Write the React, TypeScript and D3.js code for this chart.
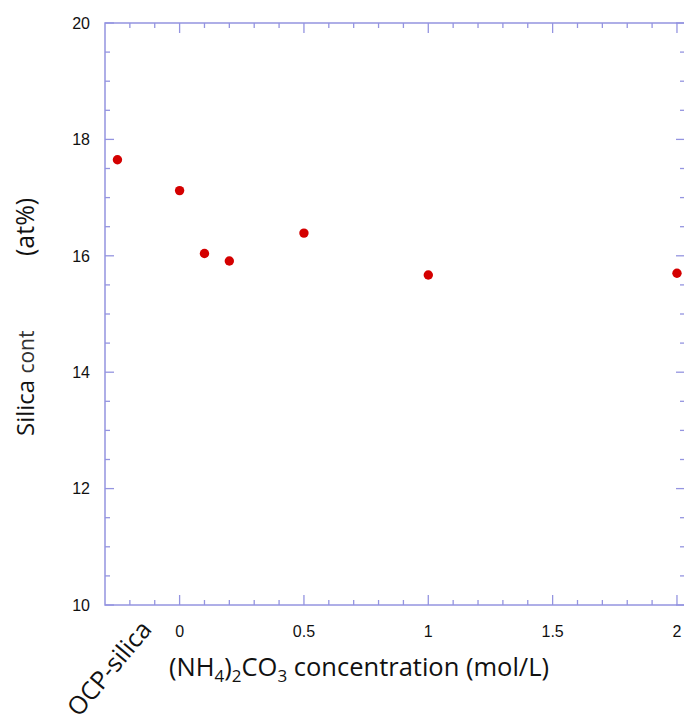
import React, { useRef, useEffect } from 'react';
import * as d3 from 'd3';

// concentrations of (NH4)2CO3 in mol/L and the silica content
const concentrations = [0, 0.1, 0.2, 0.5, 1, 2];
const silicaContent = [17.12, 16.04, 15.91, 16.39, 15.67, 15.7];
// the reference sample sits left of zero on the axis
const ocpPosition = -0.25;
const ocpContent = 17.65;
const ocpLabel = 'OCP-silica';

const xTickLabels = ['0', '0.5', '1', '1.5', '2'];
const yTickLabels = ['10', '12', '14', '16', '18', '20'];

const width = 684;
const height = 722;
const axisColor = '#9494e0';
const dotColor = '#d40000';

const App = () => {
    const svgRef = useRef<SVGSVGElement>(null);

    useEffect(() => {
        const svg = d3.select(svgRef.current);
        svg.selectAll('*').remove();

        const left = 105, right = 685, top = 23, bottom = 605;

        const x = d3.scaleLinear().domain([-0.3, 2.0323]).range([left, right]);
        const y = d3.scaleLinear().domain([10, 20]).range([bottom, top]);

        const g = svg.append('g');

        // frame
        g.append('rect')
            .attr('x', left)
            .attr('y', top)
            .attr('width', right - left)
            .attr('height', bottom - top)
            .attr('fill', 'none')
            .attr('stroke', axisColor)
            .attr('stroke-width', 1.5);

        // x ticks every 0.1, longer on every 0.5
        const xTicks = d3.range(-2, 21).map(i => i / 10);
        xTicks.forEach(t => {
            const major = Math.abs(t * 2 - Math.round(t * 2)) < 1e-6;
            const len = major ? 10 : 5;
            g.append('line')
                .attr('x1', x(t)).attr('x2', x(t))
                .attr('y1', bottom).attr('y2', bottom - len)
                .attr('stroke', axisColor).attr('stroke-width', 1.3);
            g.append('line')
                .attr('x1', x(t)).attr('x2', x(t))
                .attr('y1', top).attr('y2', top + len)
                .attr('stroke', axisColor).attr('stroke-width', 1.3);
        });

        // y ticks every 0.5, longer on every 2
        const yTicks = d3.range(21).map(i => 10 + i * 0.5);
        yTicks.forEach(t => {
            const major = t % 2 === 0;
            const len = major ? 9 : 5;
            g.append('line')
                .attr('x1', left).attr('x2', left + len)
                .attr('y1', y(t)).attr('y2', y(t))
                .attr('stroke', axisColor).attr('stroke-width', 1.3);
            g.append('line')
                .attr('x1', right).attr('x2', right - len)
                .attr('y1', y(t)).attr('y2', y(t))
                .attr('stroke', axisColor).attr('stroke-width', 1.3);
        });

        // tick labels
        g.selectAll('text.xt')
            .data(xTickLabels)
            .join('text')
            .attr('class', 'xt')
            .attr('x', d => x(+d))
            .attr('y', 637)
            .attr('text-anchor', 'middle')
            .attr('font-family', 'Liberation Sans, Arial, sans-serif')
            .attr('font-size', 16)
            .attr('fill', '#111')
            .text(d => d);

        g.selectAll('text.yt')
            .data(yTickLabels)
            .join('text')
            .attr('class', 'yt')
            .attr('x', 90)
            .attr('y', d => y(+d))
            .attr('dy', '0.36em')
            .attr('text-anchor', 'end')
            .attr('font-family', 'Liberation Sans, Arial, sans-serif')
            .attr('font-size', 16)
            .attr('fill', '#111')
            .text(d => d);

        // points
        g.selectAll('circle.pt')
            .data(concentrations.map((c, i) => [c, silicaContent[i]]).concat([[ocpPosition, ocpContent]]))
            .join('circle')
            .attr('class', 'pt')
            .attr('cx', d => x(d[0]))
            .attr('cy', d => y(d[1]))
            .attr('r', 4.7)
            .attr('fill', dotColor);

        const titleFont = 'Open Sans, Noto Sans, sans-serif';

        // rotated label for the reference sample
        g.append('text')
            .attr('transform', `translate(153, 630) rotate(-50)`)
            .attr('text-anchor', 'end')
            .attr('font-family', titleFont)
            .attr('font-size', 25)
            .attr('fill', '#111')
            .text(ocpLabel);

        // x axis title with sub-scripts
        const xt = g.append('text')
            .attr('x', 359)
            .attr('y', 676)
            .attr('text-anchor', 'middle')
            .attr('font-family', titleFont)
            .attr('font-size', 25.5)
            .attr('fill', '#111');
        xt.append('tspan').text('(NH');
        xt.append('tspan').attr('font-size', 17).attr('dy', 6).text('4');
        xt.append('tspan').attr('dy', -6).text(')');
        xt.append('tspan').attr('font-size', 17).attr('dy', 6).text('2');
        xt.append('tspan').attr('dy', -6).text('CO');
        xt.append('tspan').attr('font-size', 17).attr('dy', 6).text('3');
        xt.append('tspan').attr('dy', -6).text(' concentration (mol/L)');

        // y axis title, split as in the picture
        const yt = g.append('text')
            .attr('transform', 'translate(34, 436) rotate(-90)')
            .attr('font-family', titleFont)
            .attr('font-size', 24)
            .attr('fill', '#111');
        yt.append('tspan').text('Silica ');
        yt.append('tspan').attr('font-size', 21).attr('fill', '#333').text('cont');

        g.append('text')
            .attr('transform', 'translate(34, 256) rotate(-90)')
            .attr('font-family', titleFont)
            .attr('font-size', 25)
            .attr('fill', '#111')
            .text('(at%)');
    }, []);

    return (
        <svg
            ref={svgRef}
            width={width}
            height={height}
            style={{ position: 'absolute', left: 0, top: 0, background: '#fff' }}
        />
    );
};

export default App;
